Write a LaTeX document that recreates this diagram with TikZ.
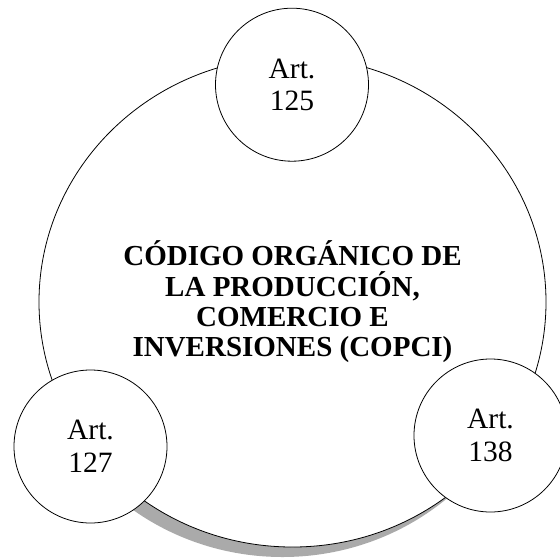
\documentclass[tikz,border=0pt]{standalone}
\usepackage{fontspec}
\setmainfont{Liberation Serif}
\usetikzlibrary{shapes.geometric,calc}
\definecolor{shadowgray}{RGB}{170,170,170}
\begin{document}
\begin{tikzpicture}[x=1pt,y=-1pt,
  ring/.style={draw=black,line width=0.8pt,fill=white},
  bigring/.style={ellipse,ring,minimum width=507pt,minimum height=490pt,inner sep=0pt,align=center,
    font=\fontsize{29}{30.3}\selectfont\bfseries},
  artcircle/.style={circle,ring,minimum size=153pt,inner sep=0pt,align=center,
    font=\fontsize{29.5}{32.5}\selectfont}]
\useasboundingbox (0,0) rectangle (560,558);
\coordinate (c) at (292.5,302);
\begin{scope}
  \clip (130,460) rectangle (480,570);
  \fill[shadowgray] ($(c)+(-10,10)$) ellipse [x radius=253.5,y radius=245];
\end{scope}
\node[bigring] (main) at (c) {CÓDIGO ORGÁNICO DE\\LA PRODUCCIÓN,\\COMERCIO E\\INVERSIONES (COPCI)};
\node[artcircle] (a125) at (292,84.7) {Art.\\125};
\node[artcircle] (a127) at (90.5,446.5) {Art.\\127};
\node[artcircle] (a138) at (490.5,435.5) {Art.\\138};
\end{tikzpicture}
\end{document}
